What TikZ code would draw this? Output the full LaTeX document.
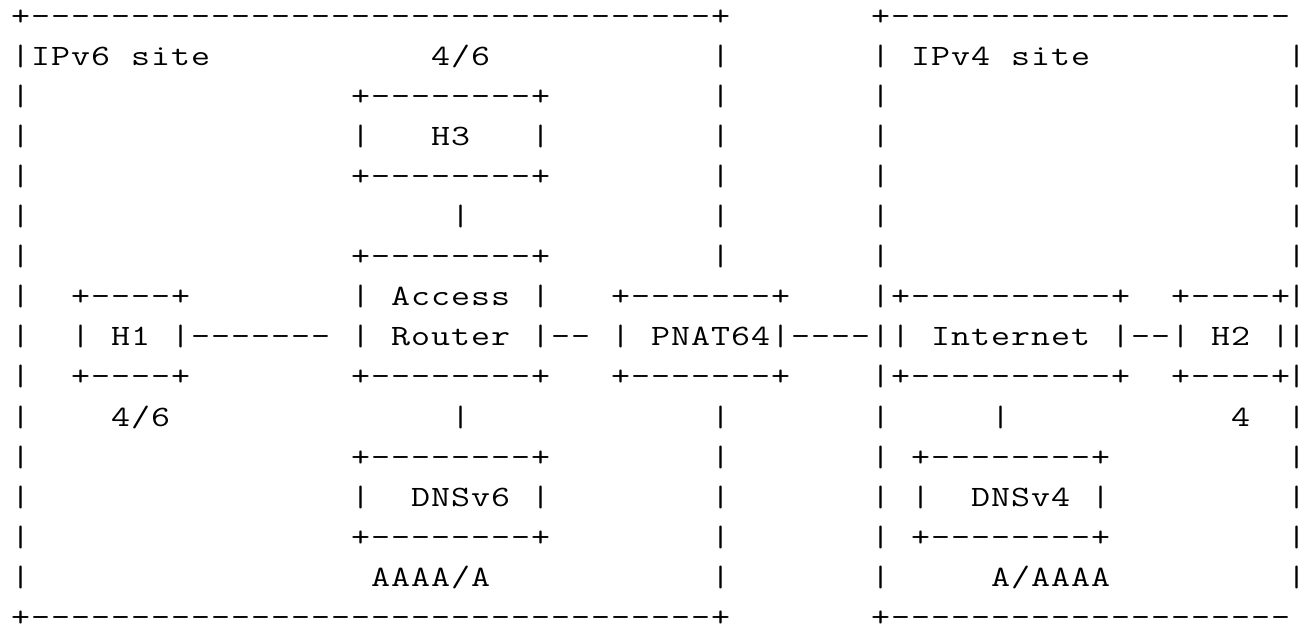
\documentclass[tikz,border=0pt]{standalone}
\usepackage{tikz}
\newlength\cw
\setlength\cw{20pt}
\newcommand\cellbox[1]{\hbox to \cw{\hss\scalebox{1.25}[1]{#1}\hss}}
\def\trackloop#1{\ifx#1\relax\else\cellbox{#1}\expandafter\trackloop\fi}
\newcommand\track[1]{\trackloop#1\relax}
\tikzset{asc/.style={anchor=base west, inner sep=0pt, outer sep=0pt,
  font=\ttfamily\fontsize{29.5}{36}\selectfont, text=black}}
\newcommand\tok[3]{\node[asc] (r#1c#2) at ({#2*20+10.5},{-(25+40.1*#1)}) {\track{#3}};}
\newcommand\edgebar[1]{\node[asc, anchor=base] (r#1c64) at (1296.5,{-(25+40.1*#1)}) {\makebox[0pt]{\scalebox{1.25}[1]{|}}};}
\begin{document}
\begin{tikzpicture}[x=1pt,y=1pt]
\fill[white] (0,0) rectangle (1299,-624);
\useasboundingbox (0,0) rectangle (1299,-624);
% row 0
\tok{0}{0}{+----------------------------------+}
\tok{0}{43}{+--------------------}
% row 1
\tok{1}{0}{|}\tok{1}{1}{IPv6~site}\tok{1}{21}{4/6}\tok{1}{35}{|}
\tok{1}{43}{|}\tok{1}{45}{IPv4~site}\edgebar{1}
% row 2
\tok{2}{0}{|}\tok{2}{17}{+--------+}\tok{2}{35}{|}\tok{2}{43}{|}\edgebar{2}
% row 3
\tok{3}{0}{|}\tok{3}{17}{|}\tok{3}{21}{H3}\tok{3}{26}{|}\tok{3}{35}{|}\tok{3}{43}{|}\edgebar{3}
% row 4
\tok{4}{0}{|}\tok{4}{17}{+--------+}\tok{4}{35}{|}\tok{4}{43}{|}\edgebar{4}
% row 5
\tok{5}{0}{|}\tok{5}{22}{|}\tok{5}{35}{|}\tok{5}{43}{|}\edgebar{5}
% row 6
\tok{6}{0}{|}\tok{6}{17}{+--------+}\tok{6}{35}{|}\tok{6}{43}{|}\edgebar{6}
% row 7
\tok{7}{0}{|}\tok{7}{3}{+----+}\tok{7}{17}{|}\tok{7}{19}{Access}\tok{7}{26}{|}
\tok{7}{30}{+-------+}\tok{7}{43}{|}\tok{7}{44}{+----------+}\tok{7}{58}{+----+}\edgebar{7}
% row 8
\tok{8}{0}{|}\tok{8}{3}{|}\tok{8}{5}{H1}\tok{8}{8}{|}\tok{8}{9}{-------}
\tok{8}{17}{|}\tok{8}{19}{Router}\tok{8}{26}{|}\tok{8}{27}{--}
\tok{8}{30}{|}\tok{8}{32}{PNAT64}\tok{8}{38}{|}\tok{8}{39}{----}
\tok{8}{43}{|}\tok{8}{44}{|}\tok{8}{46}{Internet}\tok{8}{55}{|}\tok{8}{56}{--}
\tok{8}{58}{|}\tok{8}{60}{H2}\tok{8}{63}{|}\edgebar{8}
% row 9
\tok{9}{0}{|}\tok{9}{3}{+----+}\tok{9}{17}{+--------+}\tok{9}{30}{+-------+}
\tok{9}{43}{|}\tok{9}{44}{+----------+}\tok{9}{58}{+----+}\edgebar{9}
% row 10
\tok{10}{0}{|}\tok{10}{5}{4/6}\tok{10}{22}{|}\tok{10}{35}{|}\tok{10}{43}{|}\tok{10}{49}{|}\tok{10}{61}{4}\edgebar{10}
% row 11
\tok{11}{0}{|}\tok{11}{17}{+--------+}\tok{11}{35}{|}\tok{11}{43}{|}\tok{11}{45}{+--------+}\edgebar{11}
% row 12
\tok{12}{0}{|}\tok{12}{17}{|}\tok{12}{20}{DNSv6}\tok{12}{26}{|}\tok{12}{35}{|}
\tok{12}{43}{|}\tok{12}{45}{|}\tok{12}{48}{DNSv4}\tok{12}{54}{|}\edgebar{12}
% row 13
\tok{13}{0}{|}\tok{13}{17}{+--------+}\tok{13}{35}{|}\tok{13}{43}{|}\tok{13}{45}{+--------+}\edgebar{13}
% row 14
\tok{14}{0}{|}\tok{14}{18}{AAAA/A}\tok{14}{35}{|}\tok{14}{43}{|}\tok{14}{49}{A/AAAA}\edgebar{14}
% row 15
\tok{15}{0}{+----------------------------------+}
\tok{15}{43}{+--------------------}
\end{tikzpicture}
\end{document}
